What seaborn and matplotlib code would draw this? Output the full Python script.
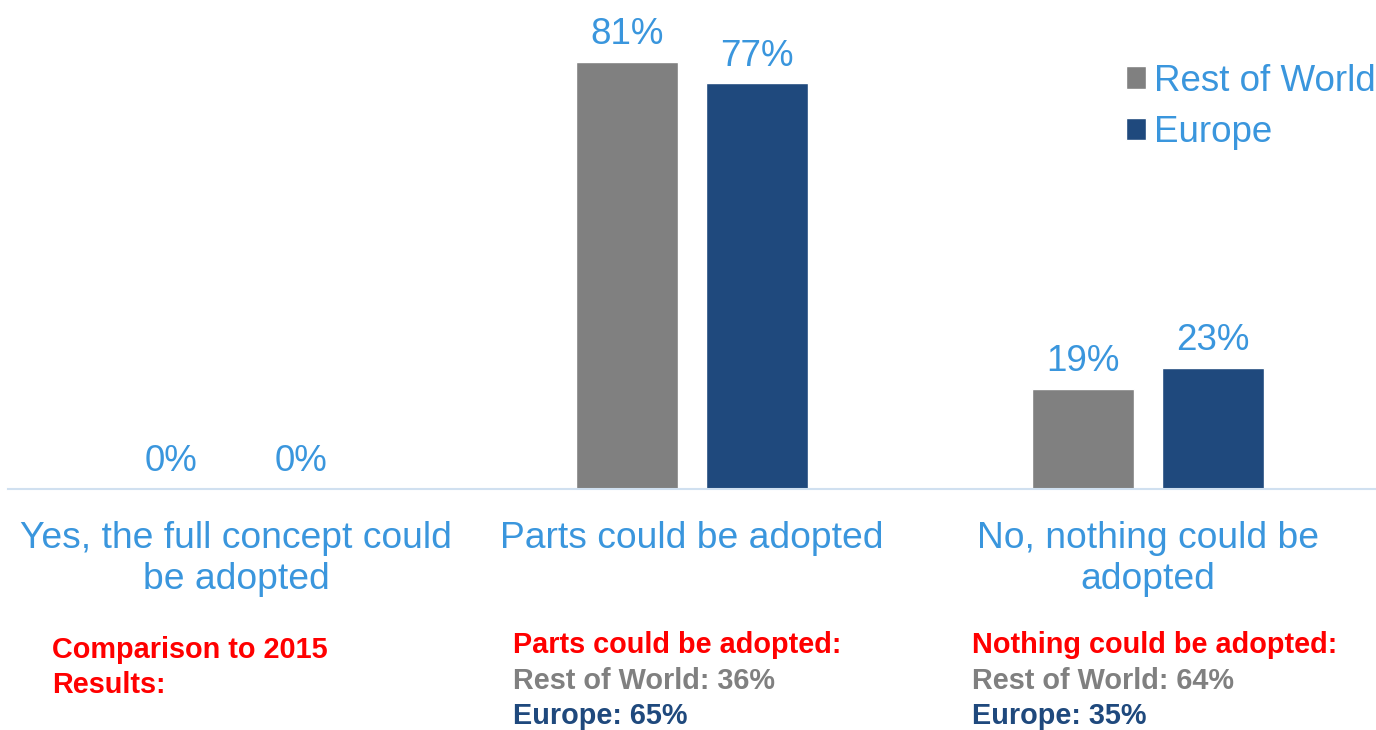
import matplotlib
matplotlib.use("Agg")
import matplotlib.pyplot as plt
import seaborn as sns
import pandas as pd
from matplotlib.patches import Patch

categories = ["Yes, the full concept could\nbe adopted", "Parts could be adopted", "No, nothing could be\nadopted"]
series_names = ["Rest of World", "Europe"]
rest_of_world = [0, 81, 19]
europe = [0, 77, 23]

notes_titles = [["Comparison to 2015", "Results:"], ["Parts could be adopted:"], ["Nothing could be adopted:"]]
notes_rest = [None, "Rest of World: 36%", "Rest of World: 64%"]
notes_europe = [None, "Europe: 65%", "Europe: 35%"]

BLUE_TXT = "#3a96dd"
GREY = "#808080"
NAVY = "#1f497d"
RED = "#ff0000"

sns.set_theme(style="white")
plt.rcParams["font.family"] = ["Liberation Sans", "DejaVu Sans"]

df = pd.DataFrame({
    "category": categories * 2,
    "series": [series_names[0]] * 3 + [series_names[1]] * 3,
    "value": rest_of_world + europe,
})

fig = plt.figure(figsize=(13.76, 7.30), dpi=100)
ax = fig.add_axes([8 / 1376, (730 - 489) / 730, 1 - 8 / 1376, 489 / 730])

sns.barplot(data=df, x="category", y="value", hue="series", order=categories,
            hue_order=series_names, palette=[GREY, NAVY], width=0.569, gap=0.215,
            ax=ax, legend=False, saturation=1)

ax.set_xlim(-0.5, 2.5)
ax.set_ylim(0, 92.8)
for c in ax.containers:
    ax.bar_label(c, labels=[f"{v:.0f}%" for v in c.datavalues], padding=7,
                 fontsize=26.5, color=BLUE_TXT)

for s in ["top", "right", "left"]:
    ax.spines[s].set_visible(False)
ax.spines["bottom"].set_color("#d0e0f0")
ax.spines["bottom"].set_linewidth(1.5)
ax.set_yticks([])
ax.set_xlabel("")
ax.set_ylabel("")
ax.tick_params(axis="x", length=0, pad=23, labelsize=26.8, labelcolor=BLUE_TXT)
for t in ax.get_xticklabels():
    t.set_linespacing(1.22)

handles = [Patch(facecolor=GREY), Patch(facecolor=NAVY)]
ax.legend(handles, series_names, loc="upper right", bbox_to_anchor=(1.0, 0.913),
          bbox_transform=fig.transFigure, frameon=False, fontsize=26.5,
          labelcolor=BLUE_TXT, handlelength=0.55, handleheight=0.55,
          handletextpad=0.22, labelspacing=0.45, borderaxespad=0, borderpad=0)

note_x = [52, 513, 972]
fs = 20.8
for i in range(3):
    x = note_x[i] / 1376
    if notes_rest[i] is None:
        fig.text(x, 1 - 650 / 730, notes_titles[i][0], color=RED, fontsize=fs,
                 fontweight="bold", ha="left", va="center")
        fig.text(x, 1 - 685 / 730, notes_titles[i][1], color=RED, fontsize=fs,
                 fontweight="bold", ha="left", va="center")
    else:
        fig.text(x, 1 - 645 / 730, notes_titles[i][0], color=RED, fontsize=fs,
                 fontweight="bold", ha="left", va="center")
        fig.text(x, 1 - 681 / 730, notes_rest[i], color=GREY, fontsize=fs,
                 fontweight="bold", ha="left", va="center")
        fig.text(x, 1 - 716 / 730, notes_europe[i], color=NAVY, fontsize=fs,
                 fontweight="bold", ha="left", va="center")

fig.savefig("out.png", dpi=100)
